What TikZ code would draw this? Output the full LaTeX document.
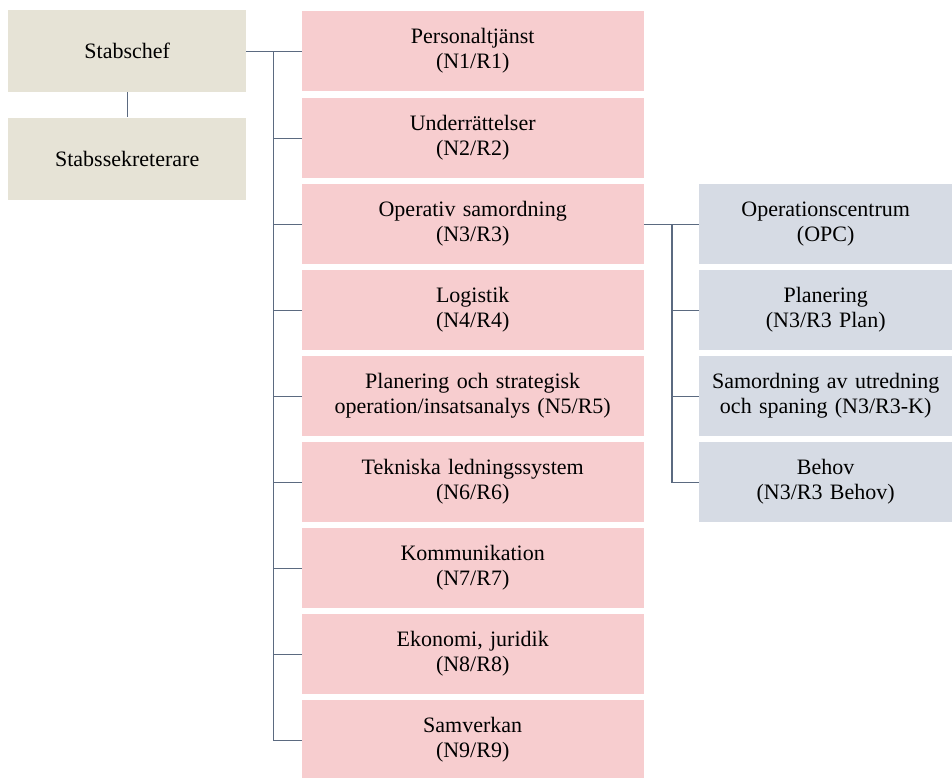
\documentclass[tikz,border=0pt]{standalone}
\usepackage{fontspec}
\setmainfont{Liberation Serif}
\usetikzlibrary{matrix,positioning}
\definecolor{stabbeige}{RGB}{230,227,214}
\definecolor{enhetrosa}{RGB}{247,205,207}
\definecolor{sektionbla}{RGB}{214,219,228}
\definecolor{linjegra}{RGB}{91,106,128}

\begin{document}
\begin{tikzpicture}[
    box/.style={anchor=center,inner sep=0pt,minimum height=80pt,align=center,font=\fontsize{22}{25}\selectfont},
    stab/.style={box,fill=stabbeige,text width=238pt,minimum height=82pt},
    linje/.style={draw=linjegra,line width=1.2pt}]
  \useasboundingbox (0,0) rectangle (952pt,-778pt);
          \matrix (m) [matrix of nodes,anchor=north west,inner sep=0pt,row sep=6pt,column sep=55.5pt,
                       nodes={box},ampersand replacement=\&,
                       column 1/.style={nodes={stab}},
                       column 2/.style={nodes={fill=enhetrosa,text width=342pt}},
                       column 3/.style={nodes={fill=sektionbla,text width=253pt}}]
            at (8pt,-10pt)
            {
                Stabschef \& {Personaltj\"anst\\(N1/R1)}                                  \&                                              \\
                          \& {Underr\"attelser\\(N2/R2)}                                  \&                                              \\
                          \& {Operativ samordning\\(N3/R3)}                               \& {Operationscentrum\\(OPC)}                   \\
                          \& {Logistik\\(N4/R4)}                                          \& {Planering\\(N3/R3 Plan)}                    \\
                          \& {Planering och strategisk\\operation/insatsanalys (N5/R5)}   \& {Samordning av utredning\\och spaning (N3/R3-K)} \\
                          \& {Tekniska ledningssystem\\(N6/R6)}                           \& {Behov\\(N3/R3 Behov)}                       \\
                          \& {Kommunikation\\(N7/R7)}                                     \&                                              \\
                          \& {Ekonomi, juridik\\(N8/R8)}                                  \&                                              \\
                          \& {Samverkan\\(N9/R9)}                                         \&                                              \\
              };
              \node[stab,below=25pt of m-1-1] (sekr) {Stabssekreterare};
              \draw[linje] (m-1-1.south) -- (sekr.north);
              \draw[linje] (m-1-1.east) -- (m-1-2.west);
              \foreach \r in {2,...,9}
                \draw[linje] (m-1-2.west) ++(-28pt,0) |- (m-\r-2.west);
              \draw[linje] (m-3-2.east) -- (m-3-3.west);
              \foreach \r in {4,5,6}
                \draw[linje] (m-3-3.west) ++(-27pt,0) |- (m-\r-3.west);
        \end{tikzpicture}
\end{document}
